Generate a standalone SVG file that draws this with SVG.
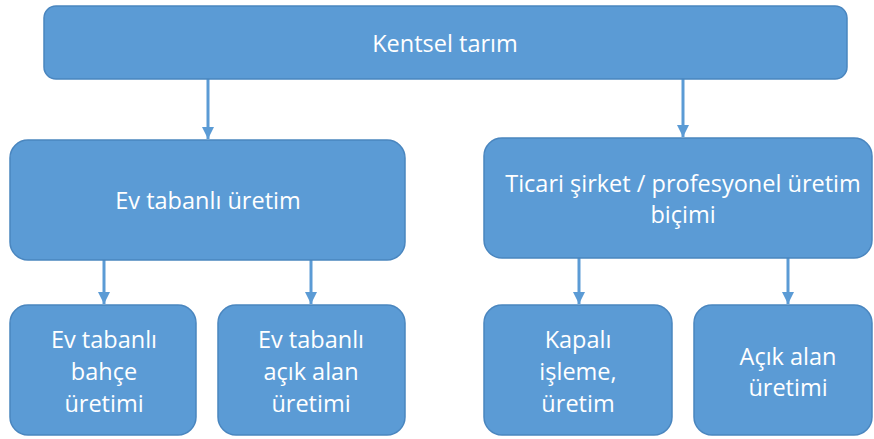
<svg xmlns="http://www.w3.org/2000/svg" width="874" height="439" viewBox="0 0 874 439">
<defs>
<style>
.box{fill:#5B9BD5;stroke:#4A86BF;stroke-width:1.5}
.t{fill:#FFFFFF;font-family:"Open Sans","DejaVu Sans",sans-serif;font-size:23.5px;text-anchor:middle}
.c{stroke:#5B9BD5;stroke-width:3;fill:none}
.ah{fill:#5B9BD5}
</style>
<marker id="arr" viewBox="0 0 10 10" refX="10" refY="5" markerWidth="4" markerHeight="4" orient="auto" markerUnits="strokeWidth">
<path d="M0,0 L10,5 L0,10 z" class="ah"/>
</marker>
</defs>
<rect width="874" height="439" fill="#FFFFFF"/>
<g id="connectors">
<line class="c" x1="208" y1="79" x2="208" y2="139" marker-end="url(#arr)"/>
<line class="c" x1="683" y1="79" x2="683" y2="137" marker-end="url(#arr)"/>
<line class="c" x1="104" y1="260" x2="104" y2="304" marker-end="url(#arr)"/>
<line class="c" x1="311" y1="260" x2="311" y2="304" marker-end="url(#arr)"/>
<line class="c" x1="579" y1="258" x2="579" y2="304" marker-end="url(#arr)"/>
<line class="c" x1="788" y1="258" x2="788" y2="304" marker-end="url(#arr)"/>
</g>
<g id="n-root">
<rect class="box" x="44" y="6" width="803" height="73" rx="12"/>
<text class="t" x="445" y="52">Kentsel tarım</text>
</g>
<g id="n-ev">
<rect class="box" x="10" y="140" width="395" height="120" rx="18"/>
<text class="t" x="208" y="209">Ev tabanlı üretim</text>
</g>
<g id="n-ticari">
<rect class="box" x="484" y="138" width="388" height="120" rx="18"/>
<text class="t" x="683" y="192">Ticari şirket / profesyonel üretim</text>
<text class="t" x="683" y="223">biçimi</text>
</g>
<g id="n-bahce">
<rect class="box" x="10" y="305" width="186" height="130" rx="18"/>
<text class="t" x="104" y="348">Ev tabanlı</text>
<text class="t" x="104" y="380">bahçe</text>
<text class="t" x="104" y="412">üretimi</text>
</g>
<g id="n-acik">
<rect class="box" x="218" y="305" width="187" height="130" rx="18"/>
<text class="t" x="311" y="348">Ev tabanlı</text>
<text class="t" x="311" y="380">açık alan</text>
<text class="t" x="311" y="412">üretimi</text>
</g>
<g id="n-kapali">
<rect class="box" x="484" y="305" width="188" height="130" rx="18"/>
<text class="t" x="578" y="348">Kapalı</text>
<text class="t" x="578" y="380">işleme,</text>
<text class="t" x="578" y="412">üretim</text>
</g>
<g id="n-acikalan">
<rect class="box" x="694" y="305" width="178" height="130" rx="18"/>
<text class="t" x="788" y="365">Açık alan</text>
<text class="t" x="788" y="396">üretimi</text>
</g>
</svg>
